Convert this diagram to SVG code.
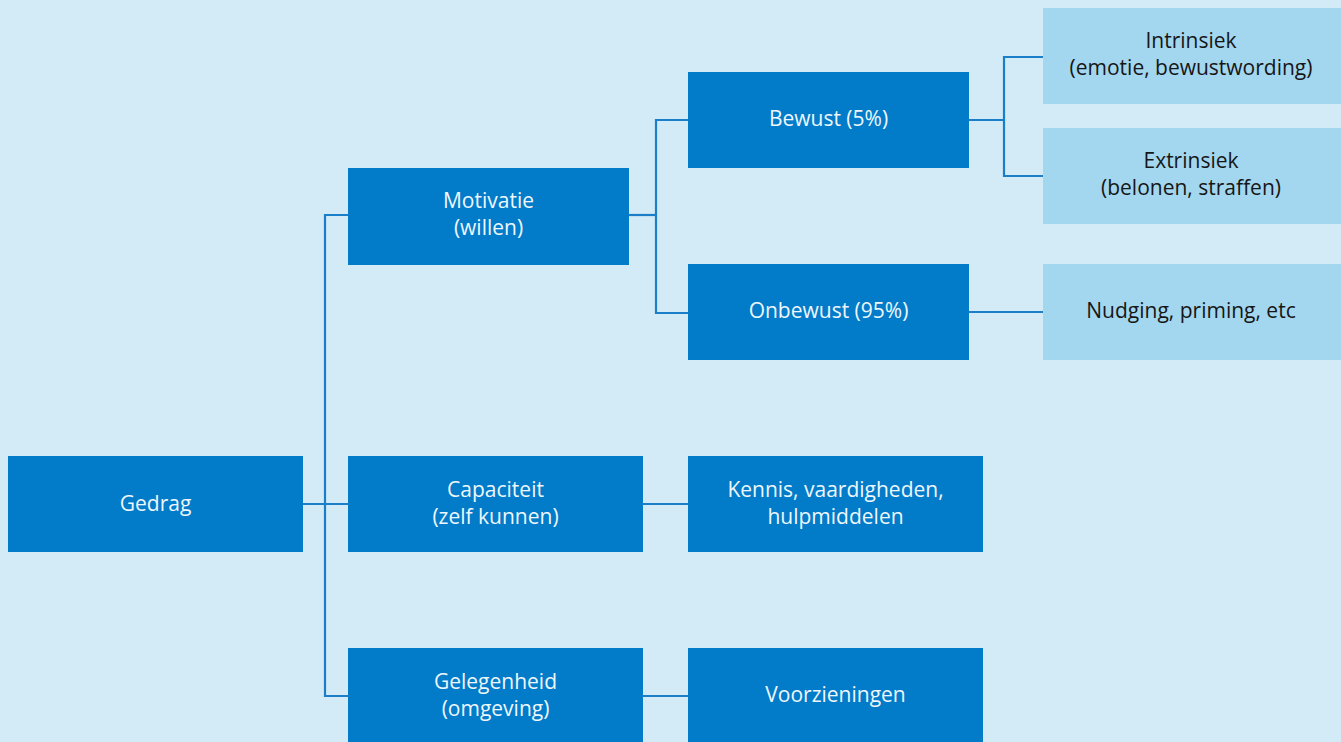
<svg xmlns="http://www.w3.org/2000/svg" width="1341" height="742" viewBox="0 0 1341 742">
<style>
.d{fill:#027bc9}
.l{fill:#a3d7ef}
.tw{fill:#eef7fc;font-family:"Open Sans","Liberation Sans",sans-serif;font-size:21px;text-anchor:middle}
.tb{fill:#161616;font-family:"Open Sans","Liberation Sans",sans-serif;font-size:21px;text-anchor:middle}
.c{fill:none;stroke:#1a7fc8;stroke-width:2.2}
</style>
<rect width="1341" height="742" fill="#d3ebf7"/>
<g id="connectors">
<path class="c" d="M303,504 H348"/>
<path class="c" d="M348,215 H325 V696 H348"/>
<path class="c" d="M629,215 H656"/>
<path class="c" d="M688,120 H656 V313 H688"/>
<path class="c" d="M643,504 H688"/>
<path class="c" d="M643,696 H688"/>
<path class="c" d="M969,120 H1004"/>
<path class="c" d="M1043,57 H1004 V176 H1043"/>
<path class="c" d="M969,312 H1043"/>
</g>
<g id="gedrag"><rect class="d" x="8" y="456" width="295" height="96"/><text class="tw" x="155.5" y="511">Gedrag</text></g>
<g id="motivatie"><rect class="d" x="348" y="168" width="281" height="97"/><text class="tw" x="488.5" y="208">Motivatie</text><text class="tw" x="488.5" y="235">(willen)</text></g>
<g id="capaciteit"><rect class="d" x="348" y="456" width="295" height="96"/><text class="tw" x="495.5" y="497">Capaciteit</text><text class="tw" x="495.5" y="524">(zelf kunnen)</text></g>
<g id="gelegenheid"><rect class="d" x="348" y="648" width="295" height="94"/><text class="tw" x="495.5" y="689">Gelegenheid</text><text class="tw" x="495.5" y="716">(omgeving)</text></g>
<g id="kennis"><rect class="d" x="688" y="456" width="295" height="96"/><text class="tw" x="835.5" y="497">Kennis, vaardigheden,</text><text class="tw" x="835.5" y="524">hulpmiddelen</text></g>
<g id="voorzieningen"><rect class="d" x="688" y="648" width="295" height="94"/><text class="tw" x="835.5" y="702">Voorzieningen</text></g>
<g id="bewust"><rect class="d" x="688" y="72" width="281" height="96"/><text class="tw" x="828.5" y="126">Bewust (5%)</text></g>
<g id="onbewust"><rect class="d" x="688" y="264" width="281" height="96"/><text class="tw" x="828.5" y="318">Onbewust (95%)</text></g>
<g id="intrinsiek"><rect class="l" x="1043" y="8" width="298" height="96"/><text class="tb" x="1191" y="48">Intrinsiek</text><text class="tb" x="1191" y="75">(emotie, bewustwording)</text></g>
<g id="extrinsiek"><rect class="l" x="1043" y="128" width="298" height="96"/><text class="tb" x="1191" y="168">Extrinsiek</text><text class="tb" x="1191" y="195">(belonen, straffen)</text></g>
<g id="nudging"><rect class="l" x="1043" y="264" width="298" height="96"/><text class="tb" x="1191" y="318">Nudging, priming, etc</text></g>
</svg>
